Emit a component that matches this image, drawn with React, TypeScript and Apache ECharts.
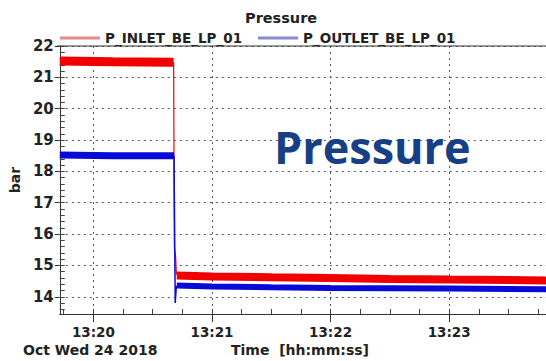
import React, { useEffect, useRef } from "react";
import * as echarts from "echarts";

const toSec = (t: string) => {
  const [h, m, s] = t.split(":").map(Number);
  return h * 3600 + m * 60 + s;
};

// values (time, bar)
const inletBefore: [string, number][] = [
  ["13:19:43", 21.52],
  ["13:20:10", 21.5],
  ["13:20:40.6", 21.48],
];
const inletDrop: [string, number][] = [
  ["13:20:40.6", 21.48],
  ["13:20:41.0", 15.55],
  ["13:20:41.6", 15.3],
  ["13:20:42.0", 14.7],
];
const inletAfter: [string, number][] = [
  ["13:20:42.2", 14.68],
  ["13:21:00", 14.65],
  ["13:21:30", 14.62],
  ["13:22:00", 14.6],
  ["13:22:30", 14.57],
  ["13:23:00", 14.55],
  ["13:23:50", 14.52],
];
const outletBefore: [string, number][] = [
  ["13:19:43", 18.52],
  ["13:20:10", 18.5],
  ["13:20:40.8", 18.5],
];
const outletDrop: [string, number][] = [
  ["13:20:40.8", 18.5],
  ["13:20:41.4", 13.8],
  ["13:20:42.0", 14.35],
];
const outletAfter: [string, number][] = [
  ["13:20:42.2", 14.36],
  ["13:21:00", 14.33],
  ["13:21:30", 14.3],
  ["13:22:00", 14.28],
  ["13:22:30", 14.27],
  ["13:23:00", 14.26],
  ["13:23:50", 14.24],
];

const yTicks = [14, 15, 16, 17, 18, 19, 20, 21, 22];
const xTicks = ["13:20:00", "13:21:00", "13:22:00", "13:23:00"];
const legendNames = ["P_INLET_BE_LP_01", "P_OUTLET_BE_LP_01"];

const X_MIN = toSec("13:19:43");
const X_MAX = toSec("13:23:49");
const Y_MIN = 13.45;
const Y_MAX = 22;

const conv = (arr: [string, number][]) => arr.map(([t, v]) => [toSec(t), v]);

const minorY: number[] = [];
for (let i = 0; i <= 45; i++) minorY.push(Math.round((13.4 + i * 0.2) * 100) / 100);
const minorX: number[] = [];
for (let i = 0; i <= 20; i++) minorX.push(toSec("13:19:30") + i * 15);

const fmt = (v: number) => {
  const h = Math.floor(v / 3600);
  const m = Math.floor((v % 3600) / 60);
  return `${h}:${String(m).padStart(2, "0")}`;
};

const RED = "#f00000";
const BLUE = "#0a0ad8";
const FONT = "DejaVu Sans";

export default function App() {
  const ref = useRef<HTMLDivElement>(null);
  useEffect(() => {
    if (!ref.current) return;
    const chart = echarts.init(ref.current, null, { renderer: "svg" });
    const baseAxisLine = { lineStyle: { color: "#333", width: 1 } };
    chart.setOption({
      animation: false,
      backgroundColor: "#fff",
      title: {
        text: "Pressure",
        left: 240,
        top: 5,
        textStyle: { fontFamily: FONT, fontWeight: "bold", fontSize: 14.5, color: "#222" },
      },
      legend: {
        top: 26,
        left: 55,
        itemWidth: 40,
        itemHeight: 3,
        itemGap: 16,
        icon: "rect",
        textStyle: { fontFamily: FONT, fontWeight: "bold", fontSize: 13.5, color: "#222" },
        data: [
          { name: legendNames[0], itemStyle: { color: "#e58a8a" } },
          { name: legendNames[1], itemStyle: { color: "#8a8ad0" } },
        ],
      },
      grid: { left: 57, right: -5, top: 46, bottom: 47, show: false },
      xAxis: [
        {
          type: "value",
          min: X_MIN,
          max: X_MAX,
          axisLine: { show: true, ...baseAxisLine },
          axisTick: {
            show: true,
            inside: false,
            length: 8,
            customValues: xTicks.map(toSec),
            lineStyle: { color: "#333" },
          },
          axisLabel: {
            customValues: xTicks.map(toSec),
            formatter: fmt,
            fontFamily: FONT,
            fontWeight: "bold",
            fontSize: 13.5,
            color: "#222",
            margin: 11,
          },
          splitLine: { show: true, lineStyle: { color: "#555", type: [2, 4], width: 1 } },
        },
        {
          type: "value",
          position: "bottom",
          min: X_MIN,
          max: X_MAX,
          axisLine: { show: false },
          axisTick: {
            show: true,
            inside: true,
            length: 5,
            customValues: minorX.filter((v) => v >= X_MIN && v <= X_MAX),
            lineStyle: { color: "#444" },
          },
          axisLabel: { show: false },
          splitLine: { show: false },
        },
      ],
      yAxis: [
        {
          type: "value",
          min: Y_MIN,
          max: Y_MAX,
          name: "bar",
          nameLocation: "middle",
          nameGap: 30,
          nameTextStyle: { fontFamily: FONT, fontWeight: "bold", fontSize: 14, color: "#222" },
          axisLine: { show: true, ...baseAxisLine },
          axisTick: {
            show: true,
            length: 5,
            customValues: yTicks,
            lineStyle: { color: "#333" },
          },
          axisLabel: {
            customValues: yTicks,
            fontFamily: FONT,
            fontWeight: "bold",
            fontSize: 15,
            color: "#222",
            margin: 6,
          },
          splitLine: { show: true, lineStyle: { color: "#555", type: [2, 4], width: 1 } },
        },
        {
          type: "value",
          position: "left",
          min: Y_MIN,
          max: Y_MAX,
          axisLine: { show: false },
          axisTick: {
            show: true,
            inside: true,
            length: 5,
            customValues: minorY.filter((v) => v >= Y_MIN && v <= Y_MAX),
            lineStyle: { color: "#444" },
          },
          axisLabel: { show: false },
          splitLine: { show: false },
        },
      ],
      graphic: [
        {
          type: "line",
          shape: { x1: 57, y1: 46, x2: 546, y2: 46 },
          style: { stroke: "#333", lineWidth: 1 },
          z: 10,
        },
        {
          type: "text",
          left: 23,
          top: 343,
          style: { text: "Oct Wed 24 2018", font: `bold 14px "${FONT}"`, fill: "#222" },
        },
        {
          type: "text",
          left: 231,
          top: 343,
          style: { text: "Time  [hh:mm:ss]", font: `bold 14px "${FONT}"`, fill: "#222" },
        },
        {
          type: "text",
          left: 274,
          top: 124,
          style: { text: "Pressure", font: `bold 45px "Open Sans"`, fill: "#163f86" },
          z: 20,
        },
      ],
      series: [
        { name: legendNames[0], type: "line", data: conv(inletBefore), showSymbol: false, lineStyle: { color: RED, width: 9 }, itemStyle: { color: RED }, z: 3 },
        { name: legendNames[0], type: "line", data: conv(inletDrop), showSymbol: false, lineStyle: { color: RED, width: 1.2 }, itemStyle: { color: RED }, z: 3 },
        { name: legendNames[0], type: "line", data: conv(inletAfter), showSymbol: false, lineStyle: { color: RED, width: 8 }, itemStyle: { color: RED }, z: 3 },
        { name: legendNames[1], type: "line", data: conv(outletBefore), showSymbol: false, lineStyle: { color: BLUE, width: 7 }, itemStyle: { color: BLUE }, z: 4 },
        { name: legendNames[1], type: "line", data: conv(outletDrop), showSymbol: false, lineStyle: { color: BLUE, width: 1.5 }, itemStyle: { color: BLUE }, z: 4 },
        { name: legendNames[1], type: "line", data: conv(outletAfter), showSymbol: false, lineStyle: { color: BLUE, width: 6 }, itemStyle: { color: BLUE }, z: 4 },
      ],
    });
    return () => chart.dispose();
  }, []);
  return <div ref={ref} style={{ width: 546, height: 361, position: "absolute", left: 0, top: 0 }} />;
}
